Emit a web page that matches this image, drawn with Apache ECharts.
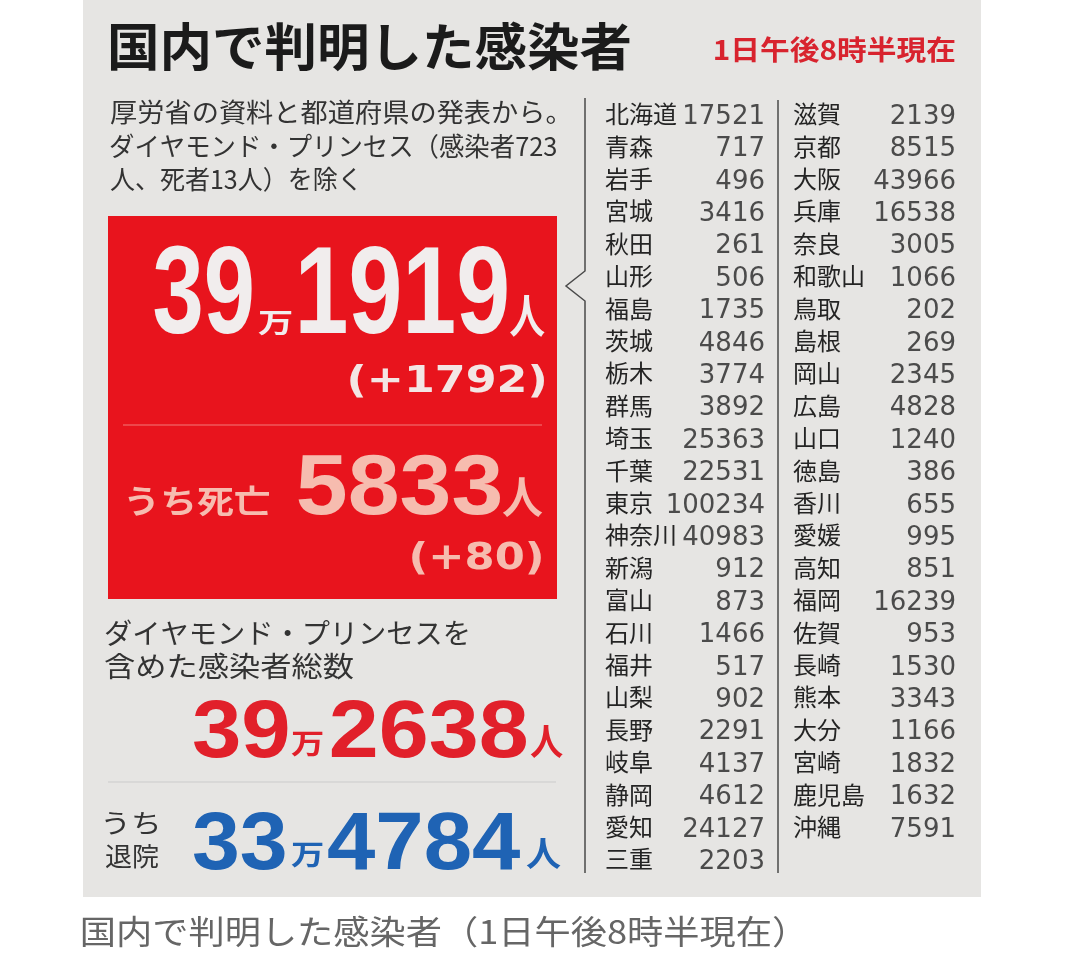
<!DOCTYPE html>
<html><head><meta charset="utf-8">
<script src="https://cdn.jsdelivr.net/npm/echarts@6/dist/echarts.min.js"></script>
<style>html,body{margin:0;padding:0;background:#fff;}#c{width:1071px;height:975px;}</style>
</head><body><div id="c"></div>
<script>
// ---- data ----
const col1Names = ['北海道','青森','岩手','宮城','秋田','山形','福島','茨城','栃木','群馬','埼玉','千葉','東京','神奈川','新潟','富山','石川','福井','山梨','長野','岐阜','静岡','愛知','三重'];
const col1Values = [17521,717,496,3416,261,506,1735,4846,3774,3892,25363,22531,100234,40983,912,873,1466,517,902,2291,4137,4612,24127,2203];
const col2Names = ['滋賀','京都','大阪','兵庫','奈良','和歌山','鳥取','島根','岡山','広島','山口','徳島','香川','愛媛','高知','福岡','佐賀','長崎','熊本','大分','宮崎','鹿児島','沖縄'];
const col2Values = [2139,8515,43966,16538,3005,1066,202,269,2345,4828,1240,386,655,995,851,16239,953,1530,3343,1166,1832,1632,7591];
const totalCases = 391919, caseDelta = 1792;
const deaths = 5833, deathDelta = 80;
const totalWithShip = 392638;
const discharged = 334784;
const shipCases = 723, shipDeaths = 13;
const asOf = '1日午後8時半現在';
const titleText = '国内で判明した感染者';

// ---- helpers ----
const JP = "'Noto Sans CJK JP'";
const LIB = "'Liberation Sans'";
const DJV = "'DejaVu Sans'";
const cv = document.createElement('canvas').getContext('2d');
function ink(text, fs, fam, wt) {
  cv.font = wt + ' ' + fs + 'px ' + fam;
  cv.textBaseline = 'middle'; cv.textAlign = 'left';
  const m = cv.measureText(text);
  return {l: m.actualBoundingBoxLeft, r: m.actualBoundingBoxRight, a: m.actualBoundingBoxAscent, d: m.actualBoundingBoxDescent, w: m.width};
}
function txt(text, x, y, fs, fam, wt, color, sx) {
  return {type:'text', x:x, y:y, scaleX: sx || 1, z: 10,
    style:{text:text, fontSize:fs, fontFamily:fam, fontWeight:wt, fill:color,
      align:'left', verticalAlign:'middle', textAlign:'left', textVerticalAlign:'middle'}};
}
// fit the ink box of text into [L,T,R,B]
function fitBox(text, box, fam, wt, color) {
  const L=box[0],T=box[1],R=box[2],B=box[3];
  let m = ink(text, 100, fam, wt);
  const fs = 100 * (B - T) / (m.a + m.d);
  m = ink(text, fs, fam, wt);
  const sx = (R - L) / (m.l + m.r);
  return txt(text, L + sx*m.l, B - m.d, fs, fam, wt, color, sx);
}
// a line with fixed font size, stretched to width, vertically centred on ink
function fitLine(text, L, R, cy, fs, fam, wt, color) {
  const m = ink(text, fs, fam, wt);
  const sx = (R - L) / (m.l + m.r);
  const y = cy - (m.d - m.a) / 2;
  return txt(text, L + sx*m.l, y, fs, fam, wt, color, sx);
}
function splitMan(n) {
  return [String(Math.floor(n / 10000)), String(n % 10000).padStart(4,'0')];
}

const g = [];
g.push({type:'rect', z:0, shape:{x:83,y:0,width:898,height:897}, style:{fill:'#e6e5e3'}});
g.push({type:'rect', z:1, shape:{x:108,y:216,width:449,height:383}, style:{fill:'#e8141d'}});
// title
g.push(fitBox(titleText, [110,22,630,72], JP, 'bold', '#1b1b1b'));
g.push(fitBox(asOf, [715,37,955,63], JP, 'bold', '#d8232e'));
// notes
g.push(fitLine('厚労省の資料と都道府県の発表から。', 110, 556, 112, 26, JP, 'normal', '#333'));
g.push(fitLine('ダイヤモンド・プリンセス（感染者' + shipCases, 110, 556, 146, 26, JP, 'normal', '#333'));
g.push(fitLine('人、死者' + shipDeaths + '人）を除く', 110, 356, 179, 26, JP, 'normal', '#333'));

// red box content
const c1 = splitMan(totalCases);
const white = '#f1eded';
g.push(fitBox(c1[0], [154,246,252,334], LIB, 'bold', white));
g.push(fitBox('万', [258,312,292,336], JP, 'bold', white));
g.push(fitBox(c1[1], [300,246,507,334], LIB, 'bold', white));
g.push(fitBox('人', [510,295,545,337], JP, 'bold', white));
g.push(fitBox('(+' + caseDelta + ')', [350,364,545,398], DJV, 'bold', '#f3e6e4'));
g.push({type:'line', z:2, shape:{x1:123,y1:425,x2:542,y2:425}, style:{stroke:'#f27a7a', lineWidth:1}});
const pink = '#f6bcaf';
g.push(fitBox('うち死亡', [128,487,270,517], JP, 'bold', pink));
g.push(fitBox(String(deaths), [298,455,500,515], LIB, 'bold', pink));
g.push(fitBox('人', [502,477,543,517], JP, 'bold', pink));
g.push(fitBox('(+' + deathDelta + ')', [412,541,542,575], DJV, 'bold', pink));

// bottom left
g.push(fitLine('ダイヤモンド・プリンセスを', 105, 468, 632, 28, JP, 'normal', '#333'));
g.push(fitLine('含めた感染者総数', 105, 354, 666, 28, JP, 'normal', '#333'));
const c2 = splitMan(totalWithShip);
const red = '#e1202a';
g.push(fitBox(c2[0], [193,700,288,758], LIB, 'bold', red));
g.push(fitBox('万', [291,732,323,757], JP, 'bold', red));
g.push(fitBox(c2[1], [331,700,526,758], LIB, 'bold', red));
g.push(fitBox('人', [530,725,563,758], JP, 'bold', red));
g.push({type:'line', z:2, shape:{x1:108,y1:782,x2:556,y2:782}, style:{stroke:'#cbcbcb', lineWidth:1}});
g.push(fitLine('うち', 105, 158, 823, 26, JP, 'normal', '#333'));
g.push(fitLine('退院', 105, 158, 856, 26, JP, 'normal', '#333'));
const c3 = splitMan(discharged);
const blue = '#1f63b4';
g.push(fitBox(c3[0], [193,812,285,870], LIB, 'bold', blue));
g.push(fitBox('万', [291,843,323,868], JP, 'bold', blue));
g.push(fitBox(c3[1], [328,812,520,870], LIB, 'bold', blue));
g.push(fitBox('人', [526,838,561,869], JP, 'bold', blue));

// bracket and column divider
g.push({type:'polyline', z:2, shape:{points:[[585,98],[585,271],[566,286],[585,301],[585,873]]}, style:{stroke:'#4a4a4a', lineWidth:1.5, fill:null}});
g.push({type:'line', z:2, shape:{x1:778,y1:100,x2:778,y2:873}, style:{stroke:'#4a4a4a', lineWidth:1.5}});

// caption
g.push(fitLine(titleText + '（' + asOf + '）', 82, 784, 931, 33, JP, 'normal', '#666'));

// ---- table via axes ----
const rowH = 32.4, top0 = 114 - rowH/2;
const nameLabel = {show:true, interval:0, align:'left', margin:0, fontSize:24, fontFamily:JP, color:'#242424'};
const valueLabel = {show:true, position:'left', distance:0, offset:[0,3], fontSize:26, fontFamily:DJV, color:'#242424', formatter: p => String(p.value[2])};
const option = {
  backgroundColor:'#ffffff',
  animation:false,
  graphic:{elements:g},
  grid:[
    {left:605, top:top0, width:160, height:rowH*col1Names.length},
    {left:793, top:top0, width:163, height:rowH*col2Names.length}
  ],
  xAxis:[
    {gridIndex:0, type:'category', data:['name','value'], boundaryGap:false, show:false},
    {gridIndex:1, type:'category', data:['name','value'], boundaryGap:false, show:false}
  ],
  yAxis:[
    {gridIndex:0, type:'category', data:col1Names, inverse:true, boundaryGap:true,
      axisLine:{show:false}, axisTick:{show:false}, splitLine:{show:false}, axisLabel:nameLabel},
    {gridIndex:1, type:'category', data:col2Names, inverse:true, boundaryGap:true,
      axisLine:{show:false}, axisTick:{show:false}, splitLine:{show:false}, axisLabel:nameLabel}
  ],
  series:[
    {type:'scatter', xAxisIndex:0, yAxisIndex:0, symbolSize:0, silent:true,
      data: col1Values.map((v,i)=>[1,i,v]), label:valueLabel},
    {type:'scatter', xAxisIndex:1, yAxisIndex:1, symbolSize:0, silent:true,
      data: col2Values.map((v,i)=>[1,i,v]), label:valueLabel}
  ]
};
const chart = echarts.init(document.getElementById('c'));
chart.setOption(option);
</script>
</body></html>
